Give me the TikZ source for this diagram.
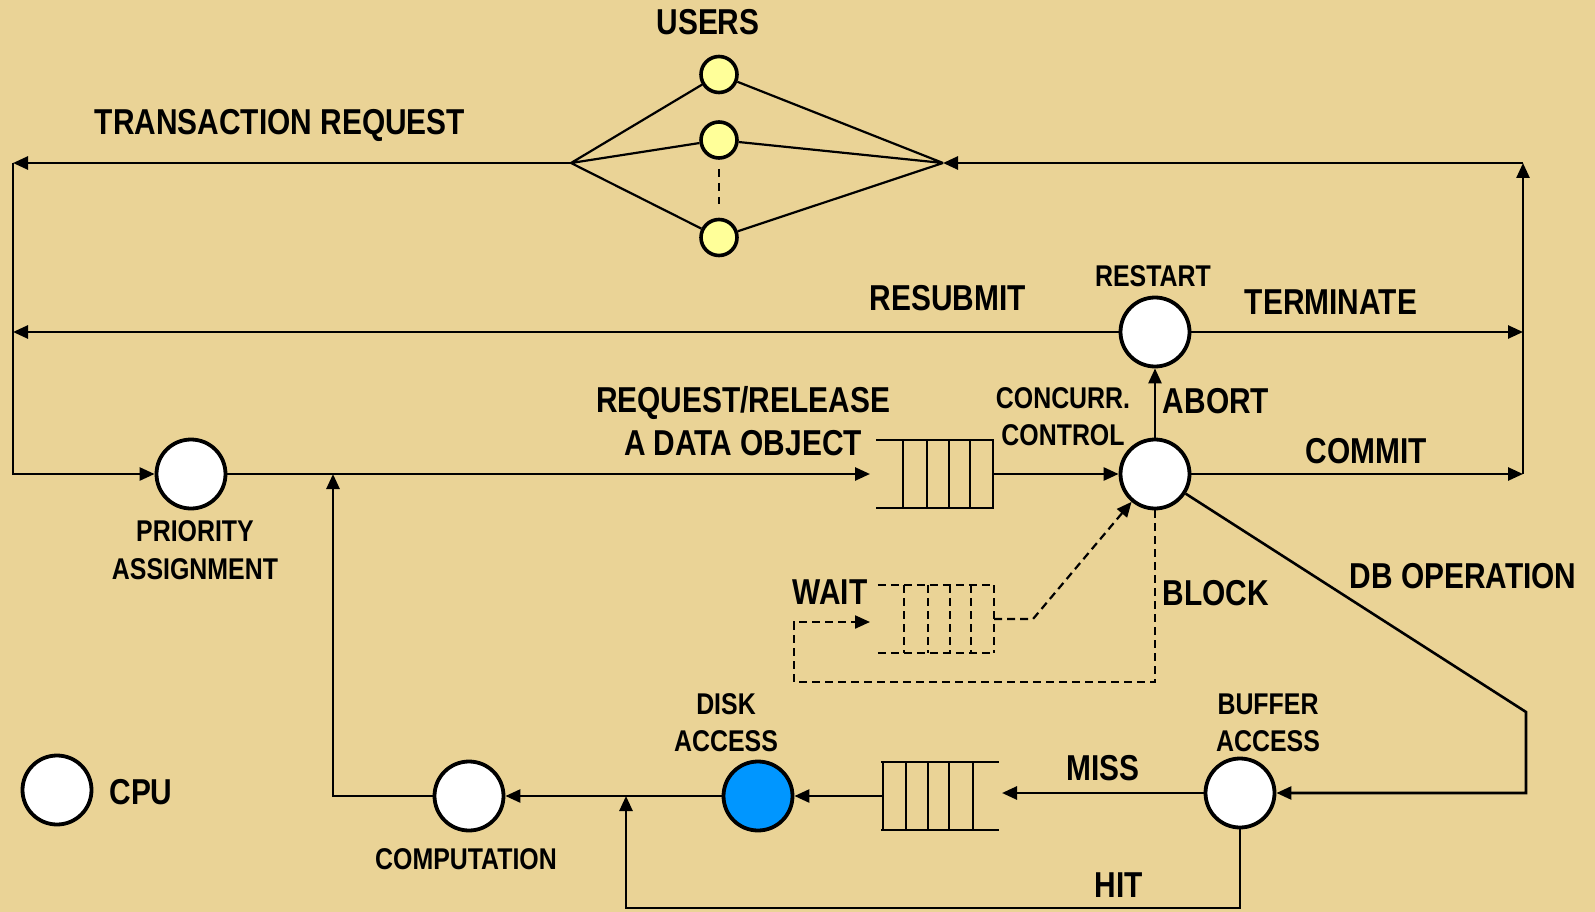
\documentclass[tikz,border=0pt]{standalone}
\usepackage{fontspec}
\setmainfont{Liberation Sans}[FakeStretch=0.83]
\usetikzlibrary{arrows.meta,calc}
\definecolor{parchment}{RGB}{234,211,150}
\definecolor{useryellow}{RGB}{255,255,153}
\definecolor{diskblue}{RGB}{0,150,255}

\begin{document}
\begin{tikzpicture}[
    x=1pt, y=-1pt,
    every node/.style={align=center},
    station/.style={circle, draw=black, line width=3.8pt, fill=white, minimum size=69pt, inner sep=0pt},
    user/.style={circle, draw=black, line width=3.6pt, fill=useryellow, minimum size=36pt, inner sep=0pt},
    biglbl/.style={font=\fontsize{36}{43}\selectfont\bfseries, inner sep=0pt, text depth=0pt},
    smalllbl/.style={font=\fontsize{30}{37.5}\selectfont\bfseries, inner sep=0pt, text depth=0pt},
    qbox/.style={minimum width=116pt, minimum height=67pt, inner sep=0pt},
    link/.style={line width=2.6pt},
    flow/.style={link, -{Triangle[length=15pt,width=13pt]}},
    qline/.style={line width=2.3pt, line cap=rect},
    waitline/.style={line width=2.2pt, dash pattern=on 8pt off 5pt},
    waitflow/.style={waitline, -{Triangle[length=15pt,width=13pt]}}
]

% parchment page
\fill[parchment] (0,0) rectangle (1595,912);
\useasboundingbox (0,0) rectangle (1595,912);

% users
\node[user] (u1) at (719,74.5) {};
\node[user] (u2) at (719,140) {};
\node[user] (u3) at (719,237.5) {};
\coordinate (dl) at (571,163);
\coordinate (dr) at (943,163);
\draw[line width=2.2pt] (dl) -- (u1) (dl) -- (u2) (dl) -- (u3)
    (u1) -- (dr) (u2) -- (dr) (u3) -- (dr);
\draw[waitline, dash pattern=on 8pt off 6pt, shorten <=9pt, shorten >=14pt] (u2) -- (u3);

% service centres
\node[station] (prio) at (191,474) {};
\node[station] (cc) at (1155,474) {};
\node[station] (rs) at (1155,332) {};
\node[station] (bf) at (1240,793) {};
\node[station, fill=diskblue] (dk) at (758,796) {};
\node[station] (comp) at (469,796) {};
\node[station] (cpu_key) at (57,790) {};

% queues
\node[qbox] (q1) at (935,474) {};
\draw[qline] (q1.north west) -- (q1.north east) (q1.south west) -- (q1.south east);
\foreach \d in {26,50,72,93,116}
    \draw[qline] ([xshift=\d pt]q1.north west) -- ([xshift=\d pt]q1.south west);

\node[qbox] (q2) at (936,619) {};
\draw[waitline] (q2.north west) -- (q2.north east) (q2.south west) -- (q2.south east);
\foreach \d in {26,50,72,93,116}
    \draw[waitline] ([xshift=\d pt]q2.north west) -- ([xshift=\d pt]q2.south west);

\node[qbox] (q3) at (940,796) {};
\draw[qline] (q3.north west) -- (q3.north east) (q3.south west) -- (q3.south east);
\foreach \d in {25,49,70,92,115}
    \draw[qline] ([xshift=-\d pt]q3.north east) -- ([xshift=-\d pt]q3.south east);

% corner points
\coordinate (ltop) at (13,163);
\coordinate (rtop) at (1523,163);
\coordinate (rbot) at (1523,474);
\coordinate (qin) at (870,474);
\coordinate (wk) at (1033,619);
\coordinate (wb) at (794,682);
\coordinate (wa) at (870,622);
\coordinate (dbk) at (1526,712);
\coordinate (mt) at (1002,793);
\coordinate (hl) at (626,908);
\coordinate (hj) at (626,796);
\coordinate (pj) at (333,474);

% connectors
\draw[flow] (dl) -- (ltop);
\draw[flow] (ltop) |- (prio);
\draw[flow] (rs) -- (rs -| ltop);
\draw[flow] (rs) -- (rs -| rtop);
\draw[flow] (rbot) -- (rtop);
\draw[flow] (rtop) -- (dr);
\draw[flow] (prio) -- (qin);
\draw[flow] (q1.east) -- (cc);
\draw[flow] (cc) -- (rbot);
\draw[flow] (cc) -- (rs);
\draw[waitflow] (cc) |- (wb) |- (wa);
\draw[waitflow] (q2.east) -- (wk) -- (cc);
\draw[flow] (cc) -- (dbk) |- (bf);
\draw[flow] (bf) -- (mt);
\draw[flow] (q3.west) -- (dk);
\draw[flow] (dk) -- (comp);
\draw[flow] (bf) |- (hl) -- (hj);
\draw[flow] (comp) -| (pj);

% labels
\node[biglbl] (users_lbl) at (708,22) {USERS};
\node[biglbl] (trans_lbl) at (280,122) {TRANSACTION REQUEST};
\node[biglbl] (resub_lbl) at (948,298) {RESUBMIT};
\node[smalllbl] (restart_lbl) at (1153,276) {RESTART};
\node[biglbl] (term_lbl) at (1331,302) {TERMINATE};
\node[biglbl] (reqrel_lbl) at (743,421) {REQUEST/RELEASE\\A DATA OBJECT};
\node[smalllbl] (cc_lbl) at (1063,416.5) {CONCURR.\\CONTROL};
\node[biglbl] (abort_lbl) at (1216,401) {ABORT};
\node[biglbl] (commit_lbl) at (1366,451) {COMMIT};
\node[smalllbl] (prio_lbl) at (195,550) {PRIORITY\\ASSIGNMENT};
\node[biglbl] (wait_lbl) at (830,592) {WAIT};
\node[biglbl] (block_lbl) at (1216,593) {BLOCK};
\node[biglbl] (db_lbl) at (1463,576) {DB OPERATION};
\node[smalllbl] (disk_lbl) at (726,722.5) {DISK\\ACCESS};
\node[smalllbl] (buf_lbl) at (1268,722.5) {BUFFER\\ACCESS};
\node[biglbl] (miss_lbl) at (1103,768) {MISS};
\node[biglbl] (hit_lbl) at (1119,885) {HIT};
\node[smalllbl] (comp_lbl) at (466,859) {COMPUTATION};
\node[biglbl] (cpu_lbl) at (141,792) {CPU};

\end{tikzpicture}
\end{document}
